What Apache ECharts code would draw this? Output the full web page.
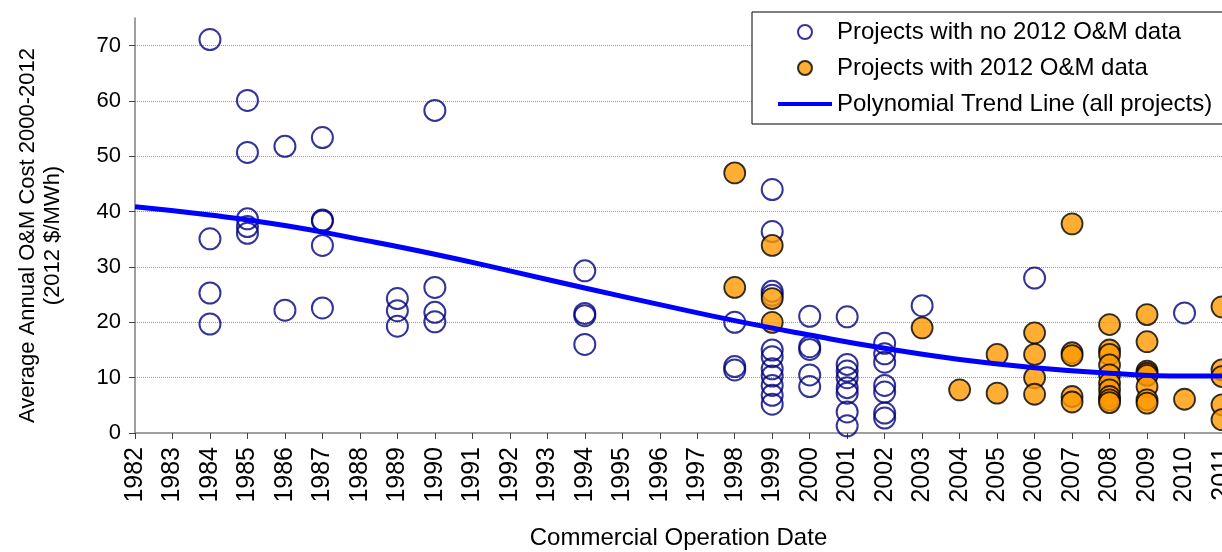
<!DOCTYPE html>
<html>
<head>
<meta charset="utf-8">
<title>O&amp;M cost by commercial operation date</title>
<script src="https://cdn.jsdelivr.net/npm/echarts@6/dist/echarts.min.js"></script>
<style>
  html, body { margin: 0; padding: 0; background: #fff; }
  #chart { width: 1222px; height: 552px; }
</style>
</head>
<body>
<div id="chart"></div>
<script>
// projects without 2012 O&M data (hollow circles), grouped by year
var noDataYears = [1984, 1985, 1986, 1987, 1989, 1990, 1994, 1998, 1999, 2000, 2001, 2002, 2003, 2006, 2010]
var noDataCosts = [
  [71.1, 35.1, 25.3, 19.7],
  [60.1, 50.7, 38.7, 37.3, 36.1],
  [51.8, 22.2],
  [53.4, 38.5, 38.3, 33.9, 22.6],
  [24.3, 22.1, 19.3],
  [58.3, 26.3, 21.8, 20.1],
  [29.3, 21.6, 21.2, 16.0],
  [20.0, 12.0, 11.4],
  [44.0, 36.4, 25.6, 24.9, 15.0, 13.8, 11.6, 10.3, 8.6, 6.8, 5.2],
  [21.1, 15.6, 15.1, 10.5, 8.4],
  [21.0, 12.4, 11.2, 10.0, 8.2, 7.2, 3.8, 1.3],
  [16.2, 14.3, 12.8, 8.6, 7.4, 3.6, 2.7],
  [23.0],
  [28.0],
  [21.7]
]
// projects with 2012 O&M data (orange)
var withDataYears = [1998, 1999, 2003, 2004, 2005, 2006, 2007, 2008, 2009, 2010, 2011]
var withDataCosts = [
  [47.0, 26.3],
  [33.9, 24.3, 20.0],
  [19.0],
  [7.8],
  [14.2, 7.2],
  [18.1, 14.2, 10.0, 7.0],
  [37.8, 14.5, 14.0, 6.6, 5.6],
  [19.6, 15.0, 14.2, 12.3, 10.5, 9.0, 7.8, 6.6, 6.0, 5.5],
  [21.4, 16.5, 11.2, 10.8, 10.4, 8.4, 6.0, 5.4],
  [6.1],
  [22.8, 11.4, 10.2, 5.1, 2.4]
]
// trend line
var trendYears = [1982, 1984, 1986, 1988, 1990, 1992, 1994, 1996, 1998, 2000, 2002, 2004, 2006, 2008, 2010, 2011]
var trendValues = [40.9, 39.4, 37.5, 35.0, 32.3, 29.3, 26.2, 23.2, 20.3, 17.7, 15.3, 13.3, 11.8, 10.8, 10.3, 10.3]

function toPoints(years, costs) {
  var out = []
  years.forEach(function (y, i) {
    costs[i].forEach(function (c) { out.push([y, c]) })
  })
  return out
}

var font = "'Liberation Sans', Arial, sans-serif"
var chart = echarts.init(document.getElementById('chart'))

chart.setOption({
  backgroundColor: '#fff',
  animation: false,
  textStyle: { fontFamily: font },
  grid: { left: 135, right: 0, top: 18, bottom: 119, outerBoundsMode: 'none' },
  legend: {
    orient: 'vertical',
    left: 752,
    top: 12,
    align: 'left',
    padding: [8, 40, 8, 24],
    itemWidth: 54,
    itemHeight: 14,
    itemGap: 12,
    backgroundColor: '#fff',
    borderColor: '#000',
    borderWidth: 1,
    textStyle: { fontSize: 24, lineHeight: 22, color: '#000', fontFamily: font },
    data: [
      'Projects with no 2012 O&M data',
      'Projects with 2012 O&M data',
      {
        name: 'Polynomial Trend Line (all projects)',
        itemStyle: { color: 'rgba(0,0,0,0)', borderColor: 'rgba(0,0,0,0)', borderWidth: 0 },
        lineStyle: { width: 4, color: '#0000FF' }
      }
    ]
  },
  xAxis: {
    type: 'value',
    min: 1982,
    max: 2011,
    interval: 1,
    name: 'Commercial Operation Date',
    nameLocation: 'middle',
    nameGap: 93,
    nameTextStyle: { fontSize: 24, color: '#000', fontFamily: font },
    axisLine: { lineStyle: { color: '#808080', width: 1.5 } },
    axisTick: { length: 6, lineStyle: { color: '#404040' } },
    axisLabel: {
      rotate: 90,
      margin: 14,
      fontSize: 25,
      color: '#000',
      fontFamily: font,
      formatter: function (v) { return String(v) }
    },
    splitLine: { show: false }
  },
  yAxis: {
    type: 'value',
    min: 0,
    max: 75,
    interval: 10,
    name: 'Average Annual O&M Cost 2000-2012\n(2012 $/MWh)',
    nameLocation: 'middle',
    nameRotate: 90,
    nameGap: 70,
    nameTextStyle: { fontSize: 22, lineHeight: 25, color: '#000', fontFamily: font, padding: [0, 20, 0, 0] },
    axisLine: { show: true, lineStyle: { color: '#808080', width: 1.5 } },
    axisTick: { show: true, length: 6, lineStyle: { color: '#404040' } },
    axisLabel: { margin: 14, fontSize: 22, color: '#000', fontFamily: font, showMaxLabel: false },
    splitLine: {
      show: true,
      showMinLine: false,
      showMaxLine: false,
      lineStyle: { color: '#999', type: 'dotted', width: 1 }
    }
  },
  series: [
    {
      name: 'Projects with no 2012 O&M data',
      type: 'scatter',
      symbol: 'circle',
      symbolSize: 21,
      itemStyle: { color: 'rgba(255,255,255,0)', borderColor: '#000080', borderWidth: 2 },
      data: toPoints(noDataYears, noDataCosts),
      z: 2
    },
    {
      name: 'Projects with 2012 O&M data',
      type: 'scatter',
      symbol: 'circle',
      symbolSize: 21,
      itemStyle: { color: '#FF9900', borderColor: '#000', borderWidth: 1.8 },
      data: toPoints(withDataYears, withDataCosts),
      z: 3
    },
    {
      name: 'Polynomial Trend Line (all projects)',
      type: 'line',
      smooth: true,
      symbol: 'none',
      lineStyle: { color: '#0000FF', width: 5 },
      itemStyle: { color: '#0000FF' },
      data: trendYears.map(function (y, i) { return [y, trendValues[i]] }),
      z: 4
    }
  ]
})
</script>
</body>
</html>
